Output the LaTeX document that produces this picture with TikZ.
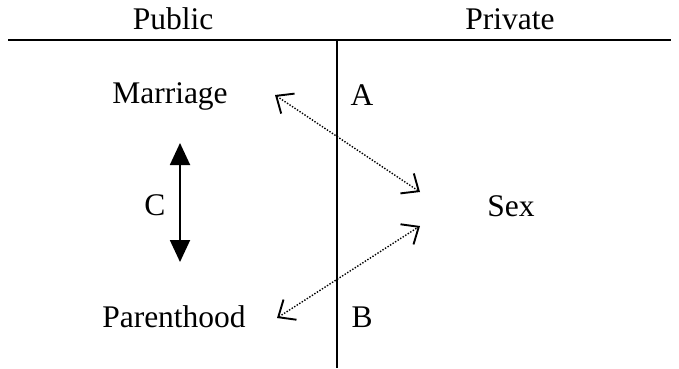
\documentclass[tikz,border=0pt]{standalone}
\usepackage{fontspec}
\setmainfont{Liberation Serif}
\usetikzlibrary{arrows.meta}
\begin{document}
\begin{tikzpicture}[x=1pt,y=-1pt,
  lbl/.style={anchor=base,inner sep=0pt,font=\fontsize{31.5}{38}\selectfont},
  rule/.style={line width=2.2pt},
  dotarrow/.style={line width=1.4pt,dash pattern=on 1.4pt off 1.6pt,
    {Straight Barb[length=14pt,width=24pt,line width=1.9pt]}-{Straight Barb[length=14pt,width=24pt,line width=1.9pt]}},
  solidarrow/.style={line width=1.9pt,
    {Triangle[length=22pt,width=20pt]}-{Triangle[length=22pt,width=20pt]}}]
\useasboundingbox (0,0) rectangle (679,368);
\node[lbl] (pub) at (173,29) {Public};
\node[lbl] (priv) at (510,29) {Private};
\coordinate (hl) at (8,40);
\coordinate (hr) at (671,40);
\coordinate (vt) at (337,40);
\coordinate (vb) at (337,368);
\draw[rule] (hl) -- (hr);
\draw[rule] (vt) -- (vb);
\node[lbl] (mar) at (170,103) {Marriage};
\node[lbl] (par) at (174,327) {Parenthood};
\node[lbl] (sex) at (511,216) {Sex};
\node[lbl] (a) at (362,105) {A};
\node[lbl] (b) at (362,327) {B};
\node[lbl] (c) at (155,215) {C};
\coordinate (ct) at (180,143);
\coordinate (cb) at (180,262);
\draw[solidarrow] (ct) -- (cb);
\coordinate (ma) at (275,95);
\coordinate (sa) at (420,192);
\coordinate (sb) at (420,226);
\coordinate (pb) at (277,318);
\draw[dotarrow] (ma) -- (sa);
\draw[dotarrow] (pb) -- (sb);
\end{tikzpicture}
\end{document}
